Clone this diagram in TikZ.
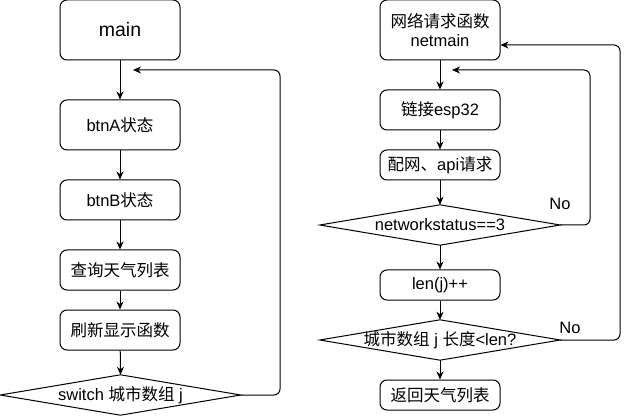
\documentclass[tikz,border=0pt]{standalone}
\usepackage{fontspec}
\setmainfont{Liberation Sans}
\newfontfamily\cjk{Noto Sans CJK SC}
\usetikzlibrary{arrows.meta}
\begin{document}
\begin{tikzpicture}[x=1pt,y=-1pt,
  every node/.style={font=\fontsize{16.5}{19}\selectfont},
  box/.style={draw, rounded corners=7pt, minimum width=120pt, inner sep=0pt, line width=1pt, align=center},
  decision/.style={minimum width=240pt, minimum height=40pt, inner sep=0pt},
  edge/.style={line width=1pt, -{Stealth[length=8pt,width=7pt,inset=2.5pt]}},
  loopline/.style={edge, rounded corners=6pt},
  lbl/.style={font=\fontsize{16.5}{19}\selectfont}
]
\useasboundingbox (0,0) rectangle (630,417);
% left column
\node[box, minimum height=60pt, font=\fontsize{19.5}{22}\selectfont] (main) at (120,30) {main};
\node[box, minimum height=50pt] (btnA) at (120,125) {btnA{\cjk 状态}};
\node[box, minimum height=40pt] (btnB) at (120,200) {btnB{\cjk 状态}};
\node[box, minimum height=40pt] (query) at (120,270) {{\cjk 查询天气列表}};
\node[box, minimum height=40pt] (refresh) at (120,330) {{\cjk 刷新显示函数}};
\node[decision] (sw) at (120.5,395) {switch {\cjk 城市数组} j};
\draw[line width=1pt] (sw.west) -- (sw.north) -- (sw.east) -- (sw.south) -- cycle;
\coordinate (lt) at (133,70);
\draw[edge] (main) -- (btnA);
\draw[edge] (btnA) -- (btnB);
\draw[edge] (btnB) -- (query);
\draw[edge] (query) -- (refresh);
\draw[edge] (refresh) -- (sw.north);
\draw[loopline] (sw.east) -- (280,395) -- (280,70) -- (lt);
% right column
\node[box, minimum height=60pt] (net) at (440,30) {{\cjk 网络请求函数}\\netmain};
\node[box, minimum height=40pt] (esp) at (440,110) {{\cjk 链接}esp32};
\node[box, minimum height=30pt] (api) at (440,165) {{\cjk 配网、}api{\cjk 请求}};
\node[decision] (ns) at (440,225) {networkstatus==3};
\draw[line width=1pt] (ns.west) -- (ns.north) -- (ns.east) -- (ns.south) -- cycle;
\node[box, minimum height=30pt] (len) at (440,285) {len(j)++};
\node[decision] (city) at (440,340) {{\cjk 城市数组} j {\cjk 长度}<len?};
\draw[line width=1pt] (city.west) -- (city.north) -- (city.east) -- (city.south) -- cycle;
\node[box, minimum height=30pt] (ret) at (440,395) {{\cjk 返回天气列表}};
\coordinate (rt) at (452,70);
\draw[edge] (net) -- (esp);
\draw[edge] (esp) -- (api);
\draw[edge] (api) -- (ns.north);
\draw[edge] (ns.south) -- (len);
\draw[edge] (len) -- (city.north);
\draw[edge] (city.south) -- (ret);
\draw[loopline] (ns.east) -- (590,225) -- (590,70) -- (rt);
\draw[loopline] (city.east) -- (620,340) -- (620,45) -- (net.east |- 0,45);
\node[lbl] (no1) at (560,204) {No};
\node[lbl] (no2) at (570,328) {No};
\end{tikzpicture}
\end{document}
